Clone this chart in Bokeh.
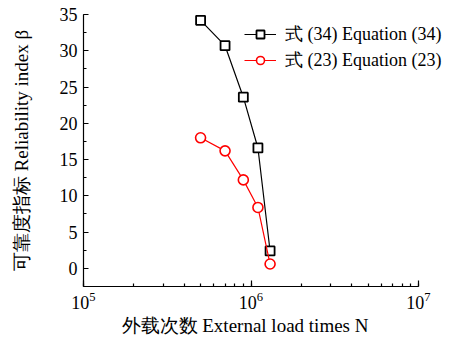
from bokeh.plotting import figure
from bokeh.models import Range1d, SingleIntervalTicker, Legend, LegendItem, Title
from bokeh.embed import file_html
from bokeh.resources import INLINE

# ---- data ----
load_times = [5e5, 7e5, 9e5, 1.1e6, 1.3e6]
beta_eq34 = [34.2, 30.7, 23.6, 16.6, 2.4]
beta_eq23 = [18.0, 16.2, 12.2, 8.4, 0.6]
series_names = ["式 (34) Equation (34)", "式 (23) Equation (23)"]
x_title = "外载次数 External load times N"
y_title = "可靠度指标 Reliability index β"
x_axis_start, x_axis_end = 1e5, 1e7
y_axis_start, y_axis_end = -2.5, 35

SERIF = "'Liberation Serif'"

# layout: the axis spans 2 decades over 335 px, frame continues 41 px to the right
AXIS_PX = 335
EXTRA_PX = 41
x_view_end = x_axis_end * 10 ** (EXTRA_PX / (AXIS_PX / 2))

p = figure(
    x_axis_type="log",
    x_range=Range1d(x_axis_start, x_view_end),
    y_range=Range1d(y_axis_start, y_axis_end),
    frame_width=AXIS_PX + EXTRA_PX, frame_height=272,
    min_border_left=83, min_border_right=0,
    min_border_top=14, min_border_bottom=53,
    output_backend="svg", toolbar_location=None,
)
p.outline_line_color = None
p.grid.visible = False
p.background_fill_color = "white"
p.border_fill_color = "white"

for ax in (p.xaxis[0], p.yaxis[0]):
    ax.axis_line_color = "black"
    ax.axis_line_width = 1.2
    ax.major_tick_line_color = "black"
    ax.minor_tick_line_color = "black"
    ax.major_tick_line_width = 1.2
    ax.minor_tick_line_width = 1.2
    ax.major_tick_out = 0
    ax.minor_tick_out = 0
    ax.major_label_text_font = SERIF
    ax.major_label_text_font_size = "18px"
    ax.major_label_text_color = "black"
    ax.axis_label_text_font = SERIF
    ax.axis_label_text_font_size = "19px"
    ax.axis_label_text_font_style = "normal"
    ax.axis_label_text_color = "black"

p.yaxis.axis_label = y_title
p.xaxis.bounds = (x_axis_start, x_axis_end)

p.xaxis.major_tick_in = 6
p.xaxis.minor_tick_in = 3
p.xaxis.major_label_standoff = 5

p.yaxis.ticker = SingleIntervalTicker(interval=5, num_minor_ticks=2)
p.yaxis.major_tick_in = 5
p.yaxis.minor_tick_in = 3
p.yaxis.major_label_standoff = 6
p.yaxis.axis_label_standoff = 25

# x-axis title, centred under the drawn axis (not under the wider frame)
p.add_layout(Title(text=x_title, align="left", offset=38, standoff=3,
                   text_font=SERIF, text_font_size="19px",
                   text_font_style="normal", text_color="black"), "below")

l1 = p.line(load_times, beta_eq34, line_color="black", line_width=1.2)
s1 = p.scatter(load_times, beta_eq34, marker="square", size=9,
               line_color="black", line_width=1.8, fill_color="white")
l2 = p.line(load_times, beta_eq23, line_color="#ff0000", line_width=1.2)
c2 = p.scatter(load_times, beta_eq23, marker="circle", size=10,
               line_color="#ff0000", line_width=1.6, fill_color="white")

legend = Legend(
    items=[LegendItem(label=series_names[0], renderers=[l1, s1]),
           LegendItem(label=series_names[1], renderers=[l2, c2])],
    location=(161, 214),
    orientation="vertical",
    glyph_width=32, glyph_height=20, label_height=20,
    label_standoff=9, spacing=2, padding=0, margin=0,
    border_line_color=None, background_fill_alpha=0,
    label_text_font=SERIF, label_text_font_size="18px",
    label_text_color="black", label_text_baseline="middle",
)
p.add_layout(legend, "center")

open("out.html", "w").write(file_html(p, INLINE))
